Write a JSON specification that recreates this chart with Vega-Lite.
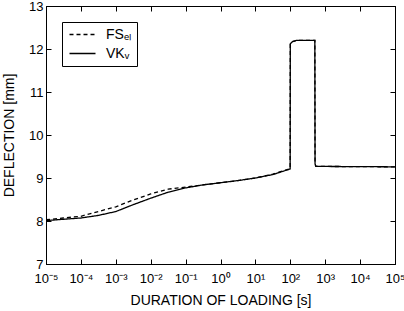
{
  "$schema": "https://vega.github.io/schema/vega-lite/v6.json",
  "width": 349,
  "height": 258,
  "autosize": "none",
  "padding": {"left": 46, "top": 6, "right": 9, "bottom": 47},
  "background": "white",
  "config": {
    "font": "Liberation Sans",
    "view": {"stroke": "black", "strokeWidth": 1},
    "axis": {"grid": false, "domainColor": "black", "tickColor": "black", "labelColor": "black", "titleColor": "black", "labelFont": "Liberation Sans", "titleFont": "Liberation Sans", "titleFontWeight": "normal", "labelFontSize": 13, "titleFontSize": 14, "tickSize": -5, "domainWidth": 1, "tickWidth": 1}
  },
  "data": {"values": [
    {"t": 0.00001, "d": 8.01, "s": "VK"},
    {"t": 0.0000316, "d": 8.04, "s": "VK"},
    {"t": 0.0001, "d": 8.07, "s": "VK"},
    {"t": 0.000316, "d": 8.13, "s": "VK"},
    {"t": 0.001, "d": 8.22, "s": "VK"},
    {"t": 0.00316, "d": 8.38, "s": "VK"},
    {"t": 0.01, "d": 8.53, "s": "VK"},
    {"t": 0.0316, "d": 8.67, "s": "VK"},
    {"t": 0.1, "d": 8.77, "s": "VK"},
    {"t": 0.316, "d": 8.84, "s": "VK"},
    {"t": 1, "d": 8.89, "s": "VK"},
    {"t": 3.16, "d": 8.94, "s": "VK"},
    {"t": 10, "d": 9.0, "s": "VK"},
    {"t": 31.6, "d": 9.08, "s": "VK"},
    {"t": 99, "d": 9.21, "s": "VK"},
    {"t": 100, "d": 12.12, "s": "VK"},
    {"t": 115, "d": 12.17, "s": "VK"},
    {"t": 150, "d": 12.2, "s": "VK"},
    {"t": 505, "d": 12.2, "s": "VK"},
    {"t": 512, "d": 9.33, "s": "VK"},
    {"t": 540, "d": 9.27, "s": "VK"},
    {"t": 100000, "d": 9.26, "s": "VK"},
    {"t": 0.00001, "d": 8.03, "s": "FS"},
    {"t": 0.0000316, "d": 8.07, "s": "FS"},
    {"t": 0.0001, "d": 8.11, "s": "FS"},
    {"t": 0.000316, "d": 8.22, "s": "FS"},
    {"t": 0.001, "d": 8.33, "s": "FS"},
    {"t": 0.00316, "d": 8.49, "s": "FS"},
    {"t": 0.01, "d": 8.63, "s": "FS"},
    {"t": 0.0316, "d": 8.74, "s": "FS"},
    {"t": 0.1, "d": 8.79, "s": "FS"},
    {"t": 0.316, "d": 8.84, "s": "FS"},
    {"t": 1, "d": 8.89, "s": "FS"},
    {"t": 3.16, "d": 8.94, "s": "FS"},
    {"t": 10, "d": 9.0, "s": "FS"},
    {"t": 31.6, "d": 9.09, "s": "FS"},
    {"t": 99, "d": 9.22, "s": "FS"},
    {"t": 100, "d": 12.12, "s": "FS"},
    {"t": 115, "d": 12.17, "s": "FS"},
    {"t": 150, "d": 12.2, "s": "FS"},
    {"t": 505, "d": 12.2, "s": "FS"},
    {"t": 512, "d": 9.33, "s": "FS"},
    {"t": 540, "d": 9.27, "s": "FS"},
    {"t": 100000, "d": 9.26, "s": "FS"}
  ]},
  "resolve": {"axis": {"x": "independent", "y": "independent"}},
  "layer": [
    {
      "mark": {"type": "line", "color": "black", "strokeWidth": 1.3},
      "encoding": {
        "x": {"field": "t", "type": "quantitative", "scale": {"type": "log", "domain": [0.00001, 100000]},
          "axis": {"orient": "bottom", "values": [0.00001, 0.0001, 0.001, 0.01, 0.1, 1, 10, 100, 1000, 10000, 100000], "labelExpr": "'10' + ['⁻⁵','⁻⁴','⁻³','⁻²','⁻¹','⁰','¹','²','³','⁴','⁵'][round(log(datum.value)/LN10) + 5]", "labelDx": -1, "labelPadding": 13, "labelFlush": false, "labelOverlap": false, "title": "DURATION OF LOADING [s]", "titlePadding": 8}},
        "y": {"field": "d", "type": "quantitative", "scale": {"domain": [7, 13]},
          "axis": {"orient": "left", "values": [7, 8, 9, 10, 11, 12, 13], "labelPadding": 8, "title": "DEFLECTION [mm]", "titlePadding": 12}},
        "strokeDash": {"field": "s", "type": "nominal", "scale": {"domain": ["FS", "VK"], "range": [[4, 3], [1, 0]]},
          "legend": {"title": null, "orient": "none", "legendX": 16, "legendY": 16, "strokeColor": "black", "fillColor": "white", "padding": 5, "symbolType": "M-2,0H2", "symbolSize": 169, "symbolOffset": 8, "symbolStrokeColor": "black", "symbolStrokeWidth": 1.3, "labelFontSize": 14, "labelFont": "Liberation Sans", "labelColor": "black", "labelOffset": 16, "rowPadding": 4, "labelExpr": "datum.label == 'FS' ? 'FSₑₗ' : 'VKᵥ'"}}
      }
    },
    {
      "mark": {"type": "line", "opacity": 0},
      "encoding": {
        "x": {"field": "t", "type": "quantitative", "scale": {"type": "log", "domain": [0.00001, 100000]},
          "axis": {"orient": "top", "values": [0.00001, 0.0001, 0.001, 0.01, 0.1, 1, 10, 100, 1000, 10000, 100000], "labels": false, "title": null}},
        "y": {"field": "d", "type": "quantitative", "scale": {"domain": [7, 13]},
          "axis": {"orient": "right", "values": [7, 8, 9, 10, 11, 12, 13], "labels": false, "title": null}},
        "detail": {"field": "s"}
      }
    }
  ]
}
